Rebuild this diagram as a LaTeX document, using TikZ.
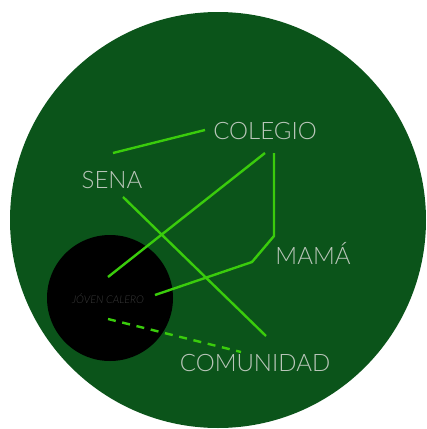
\documentclass[tikz,border=0pt]{standalone}
\usepackage{fontspec}
\setmainfont{Lato Light}
\usepackage{xcolor}
\usepackage{tikz}
\usetikzlibrary{positioning}
\definecolor{forestbg}{HTML}{0B541A}
\definecolor{limeline}{HTML}{3ACC0C}
\definecolor{paletext}{HTML}{BAC6BA}
\definecolor{darkcore}{HTML}{000000}
\definecolor{coretext}{HTML}{3A3A3A}

\begin{document}
\begin{tikzpicture}[
  x=0.75pt, y=-0.75pt,
  every node/.style={align=center, inner sep=0pt},
  lbl/.style={text=paletext, font=\fontsize{18}{21}\selectfont},
  core/.style={text=coretext, font=\fontsize{8}{9}\selectfont\itshape},
  link/.style={draw=limeline, line width=1.8pt},
  weak/.style={link, dash pattern=on 6pt off 5pt},
]
  \useasboundingbox (0,0) rectangle (426,429);
  \fill[forestbg] (218,220) circle[radius=208];
  \fill[darkcore] (110,298) circle[radius=63];

  \node[lbl] (colegio) at (265,131) {COLEGIO};
  \node[lbl] (sena) at (112,180) {SENA};
  \node[lbl] (mama) at (313,253) {MAMÁ};
  \node[lbl] (comunidad) at (255,363) {COMUNIDAD};
  \node[core] (joven) at (108,299) {JÓVEN CALERO};

  % line ends
  \coordinate (s1) at (113,153);
  \coordinate (c1) at (205,130);
  \coordinate (c2) at (265,153);
  \coordinate (j1) at (108,277);
  \coordinate (c3) at (274,153);
  \coordinate (m1) at (155,295);
  \coordinate (s2) at (123,197);
  \coordinate (u1) at (266,336);
  \coordinate (j2) at (108,319);
  \coordinate (u2) at (241,352);

  \draw[link] (s1) -- (c1);
  \draw[link] (c2) -- (j1);
  \draw[link] (c3) -- (274,236) -- (252,262) -- (m1);
  \draw[link] (s2) -- (u1);
  \draw[weak] (j2) -- (u2);
\end{tikzpicture}
\end{document}
